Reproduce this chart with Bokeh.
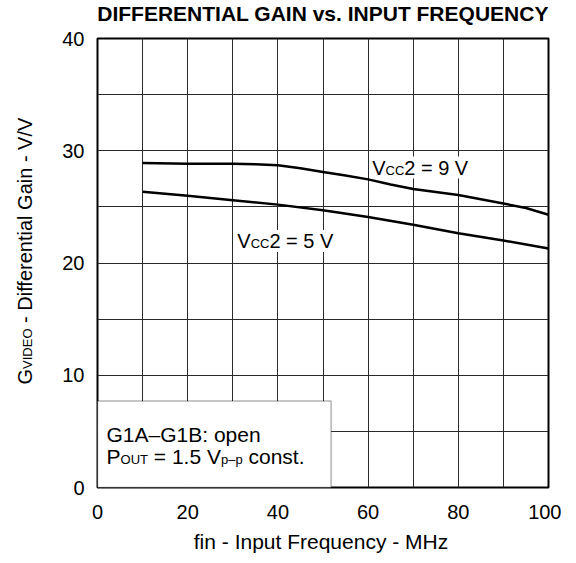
import math
from bokeh.plotting import figure
from bokeh.models import FixedTicker, Label, BoxAnnotation, Range1d
from bokeh.embed import file_html
from bokeh.resources import INLINE

# ---- data ----
freq_9v = [10, 20, 30, 35, 40, 45, 50, 55, 60, 65, 70, 80, 90, 95, 100]
gain_9v = [28.9, 28.85, 28.85, 28.8, 28.7, 28.45, 28.1, 27.8, 27.45, 27.0, 26.6, 26.05, 25.3, 24.9, 24.3]
freq_5v = [10, 20, 30, 40, 50, 60, 70, 80, 90, 100]
gain_5v = [26.35, 26.0, 25.6, 25.2, 24.7, 24.1, 23.4, 22.65, 22.0, 21.3]
x_ticks = [0, 20, 40, 60, 80, 100]
y_ticks = [0, 10, 20, 30, 40]
x_grid = list(range(0, 101, 10))
y_grid = list(range(0, 41, 5))

FONT = "Liberation Sans"
BIG = 20
LARGE = 21
SMALL = 13

# Arial/Liberation Sans advance widths (1/1000 em) for text layout
W = {'V': 667, 'C': 722, '2': 556, ' ': 278, '=': 584, '9': 556, '5': 556, 'G': 778,
     '1': 556, 'A': 667, '–': 556, 'B': 667, ':': 278, 'o': 556, 'p': 556, 'e': 556,
     'n': 556, 'P': 667, 'O': 778, 'U': 722, 'T': 611, '.': 278, 'c': 500, 's': 500,
     't': 278, 'I': 278, 'D': 722, 'E': 667, '-': 333, 'f': 278, 'i': 222, 'r': 333,
     'a': 556, 'l': 222, '/': 278}


def text_width(s, size):
    return sum(W.get(ch, 556) for ch in s) * size / 1000.0


p = figure(x_range=Range1d(0, 100), y_range=Range1d(0, 40),
           frame_width=451, frame_height=449,
           min_border_left=96, min_border_right=13, min_border_top=38, min_border_bottom=68,
           output_backend="svg", toolbar_location=None)
p.background_fill_color = "white"
p.border_fill_color = "white"
p.outline_line_color = "black"
p.outline_line_width = 2

p.xaxis.ticker = FixedTicker(ticks=x_ticks)
p.yaxis.ticker = FixedTicker(ticks=y_ticks)
p.xgrid.ticker = FixedTicker(ticks=x_grid)
p.ygrid.ticker = FixedTicker(ticks=y_grid)
for g in (p.xgrid, p.ygrid):
    g.grid_line_color = "#2a2a2a"
    g.grid_line_width = 1
    g.grid_line_alpha = 1.0

for ax in (p.xaxis, p.yaxis):
    ax.major_tick_line_color = None
    ax.minor_tick_line_color = None
    ax.axis_line_color = None
    ax.major_tick_out = 0
    ax.major_tick_in = 0
    ax.major_label_text_font = FONT
    ax.major_label_text_font_size = f"{BIG}px"
    ax.major_label_text_color = "black"
p.xaxis.major_label_standoff = 17
p.yaxis.major_label_standoff = 13

p.line(freq_9v, gain_9v, line_width=2.5, line_color="black")
p.line(freq_5v, gain_5v, line_width=2.5, line_color="black")

# condition box
p.add_layout(BoxAnnotation(left=0, right=51.8, bottom=0, top=7.7,
                           fill_color="white", fill_alpha=1.0,
                           line_color="black", line_width=1.5))


def seg_label(x, y, parts, base, vertical=False, bg=None, x_off=0, y_off=0, place="center"):
    off = 0.0
    for txt, size in parts:
        lead = len(txt) - len(txt.lstrip(" "))
        off += text_width(" " * lead, size)
        body = txt.strip(" ")
        shift = 0.35 * (base - size)  # keep smaller text on the same baseline
        kw = dict(x=x, y=y, text=body, text_font=FONT, text_font_size=f"{size}px",
                  text_color="black", text_baseline="middle", text_align="left")
        if vertical:
            kw.update(angle=math.pi / 2, x_offset=x_off + shift, y_offset=y_off + off)
        else:
            kw.update(x_offset=x_off + off, y_offset=y_off - shift)
        if bg:
            kw.update(background_fill_color=bg, background_fill_alpha=1.0)
        lab = Label(**kw)
        if place == "center":
            p.add_layout(lab)
        else:
            p.add_layout(lab, place)
        off += text_width(txt.lstrip(" "), size)


# curve labels
seg_label(60.9, 28.5, [("V", BIG), ("CC", SMALL), ("2 = 9 V", BIG)], BIG, bg="white")
seg_label(31.0, 21.95, [("V", BIG), ("CC", SMALL), ("2 = 5 V", BIG)], BIG, bg="white")

# conditions text
seg_label(2.0, 4.73, [("G1A–G1B: open", LARGE)], LARGE)
seg_label(2.0, 2.76, [("P", LARGE), ("OUT", SMALL), (" = 1.5 V", LARGE), ("p–p", SMALL), (" const.", LARGE)], LARGE)

# title (side panel so it is not clipped by the frame)
p.add_layout(Label(x=50, y=40, y_offset=25, text="DIFFERENTIAL GAIN vs. INPUT FREQUENCY",
                   text_font=FONT, text_font_size=f"{LARGE}px", text_font_style="bold",
                   text_align="center", text_baseline="middle", text_color="black"), "above")

# x axis title
p.add_layout(Label(x=50, y=0, x_offset=-2, y_offset=-54, text="fin - Input Frequency - MHz",
                   text_font=FONT, text_font_size=f"{LARGE}px",
                   text_align="center", text_baseline="middle", text_color="black"), "below")

# y axis title (rotated, composed of segments)
seg_label(0, 0, [("G", BIG), ("VIDEO", SMALL), (" - Differential Gain - V/V", BIG)], BIG,
          vertical=True, x_off=-72.5, y_off=103, place="left")

open("out.html", "w").write(file_html(p, INLINE))
